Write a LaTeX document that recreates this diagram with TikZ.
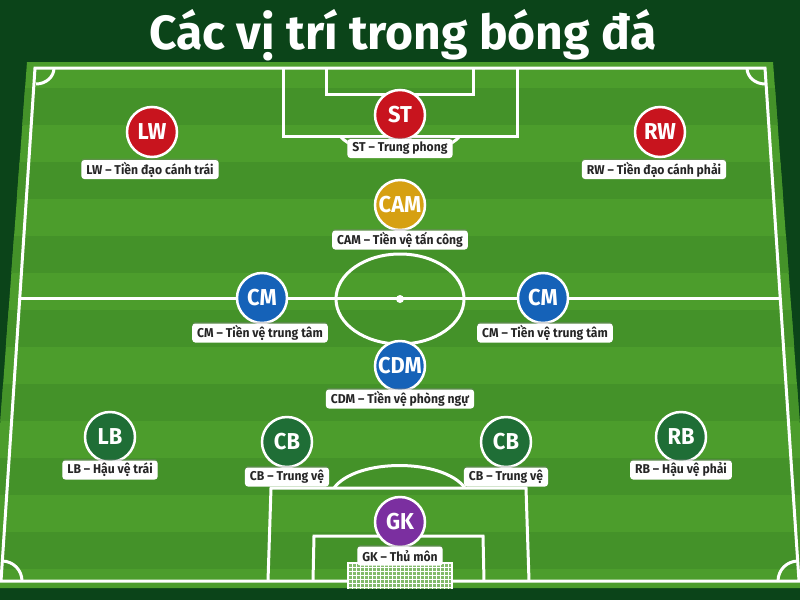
\documentclass[tikz,border=0pt]{standalone}
\usepackage{fontspec}
\setmainfont{Fira Sans}
\newfontfamily\tagfont{Fira Sans}[FakeStretch=0.95]
\usetikzlibrary{calc,shadows}

\definecolor{bgdark}{HTML}{0B4419}
\definecolor{grasslight}{HTML}{4C9D2C}
\definecolor{grassdark}{HTML}{449229}
\definecolor{posred}{HTML}{C8141E}
\definecolor{posgold}{HTML}{D6A012}
\definecolor{posblue}{HTML}{1562B8}
\definecolor{posgreen}{HTML}{1F6E36}
\definecolor{pospurple}{HTML}{7B2FA0}

\tikzset{
	pitchline/.style={white, line width=3},
	player/.style={circle, draw=white, line width=2.5, minimum size=50, inner sep=0,
		text=white, font=\fontsize{23}{23}\selectfont\tagfont\bfseries,
		drop shadow={shadow xshift=0, shadow yshift=-1.5, opacity=0.3}},
	tag/.style={fill=white, rounded corners=3, inner xsep=5, inner ysep=0, minimum height=19,
		text=black!85, font=\fontsize{12.8}{12.8}\selectfont\tagfont\bfseries,
		drop shadow={shadow xshift=0, shadow yshift=-1.5, opacity=0.35}},
}

\begin{document}
\begin{tikzpicture}[x=1pt, y=-1pt]
	\useasboundingbox (0,0) rectangle (800,600);
	\fill[bgdark] (0,0) rectangle (800,600);

	% grass with stripes
	\begin{scope}
		\clip (27,62) -- (773,62) -- (812,588) -- (-12,588) -- cycle;
		\fill[grasslight] (-20,60) rectangle (820,590);
		\foreach \ya in {88,162,...,588}
			\fill[grassdark] (-20,\ya) rectangle (820,\ya+37);
	\end{scope}

	% pitch lines
	\coordinate (tl) at (35,68);
	\coordinate (tr) at (765,68);
	\coordinate (br) at (799,581);
	\coordinate (bl) at (1,581);
	\draw[pitchline] (tl) -- (tr) -- (br) -- (bl) -- cycle;
	\draw[pitchline] ($(tl)!0.45!(bl)$) -- ($(tr)!0.45!(br)$);
	\draw[pitchline] (400,299) ellipse [x radius=64, y radius=45];
	\fill[white] (400,299) circle (4);

	\draw[pitchline] (54,68) arc[start angle=0, end angle=90, x radius=18, y radius=16];
	\draw[pitchline] (747,68) arc[start angle=180, end angle=90, x radius=18, y radius=16];
	\draw[pitchline] (2,561) arc[start angle=270, end angle=360, x radius=20, y radius=20];
	\draw[pitchline] (778,581) arc[start angle=180, end angle=270, x radius=20, y radius=20];

	% top box
	\draw[pitchline] (283,68) -- (283,136) -- (517,136) -- (517,68);
	\draw[pitchline] (326,68) -- (326,94) -- (473,94) -- (473,68);
	\draw[pitchline] (340,136) .. controls (360,160) and (440,160) .. (460,136);

	% bottom box
	\draw[pitchline] (268,581) -- (271,488) -- (526,488) -- (529,581);
	\draw[pitchline] (313,581) -- (314,536) -- (483,536) -- (484,581);
	\draw[pitchline] (334,488) .. controls (356,458) and (443,458) .. (465,488);

	% goal net
	\fill[grasslight!70!white] (348,563) rectangle (452,589);
	\foreach \xn in {352,356,...,448}
		\draw[white, line width=0.8] (\xn,563) -- (\xn,589);
	\foreach \yn in {567,571,...,587}
		\draw[white, line width=0.8] (348,\yn) -- (452,\yn);
	\draw[white, line width=2.5] (348,589) -- (348,563) -- (452,563) -- (452,589);

	% title
	\node[text=white, anchor=base, inner sep=0, font=\fontsize{48}{48}\selectfont\bfseries]
		(title) at (403,49) {Các vị trí trong bóng đá};

	% players
	\node[player, fill=posred] (lw) at (152,132) {LW};
	\node[tag] (lwtag) at (150,169.5) {LW – Tiền đạo cánh trái};
	\node[player, fill=posred] (st) at (400,115) {ST};
	\node[tag] (sttag) at (400,148.5) {ST – Trung phong};
	\node[player, fill=posred] (rw) at (660,132) {RW};
	\node[tag] (rwtag) at (654,169.5) {RW – Tiền đạo cánh phải};

	\node[player, fill=posgold] (cam) at (400,205) {CAM};
	\node[tag] (camtag) at (400,240) {CAM – Tiền vệ tấn công};

	\node[player, fill=posblue] (cml) at (262,298) {CM};
	\node[tag] (cmltag) at (260,333) {CM – Tiền vệ trung tâm};
	\node[player, fill=posblue] (cmr) at (543,298) {CM};
	\node[tag] (cmrtag) at (545,333) {CM – Tiền vệ trung tâm};
	\node[player, fill=posblue] (cdm) at (400,366) {CDM};
	\node[tag] (cdmtag) at (400,399) {CDM – Tiền vệ phòng ngự};

	\node[player, fill=posgreen] (lb) at (110,437) {LB};
	\node[tag] (lbtag) at (110,470) {LB – Hậu vệ trái};
	\node[player, fill=posgreen] (cbl) at (287,442) {CB};
	\node[tag] (cbltag) at (287,477) {CB – Trung vệ};
	\node[player, fill=posgreen] (cbr) at (506,442) {CB};
	\node[tag] (cbrtag) at (506,477) {CB – Trung vệ};
	\node[player, fill=posgreen] (rb) at (681,437) {RB};
	\node[tag] (rbtag) at (681,470) {RB – Hậu vệ phải};

	\node[player, fill=pospurple] (gk) at (400,522) {GK};
	\node[tag] (gktag) at (400,556) {GK – Thủ môn};
\end{tikzpicture}
\end{document}
